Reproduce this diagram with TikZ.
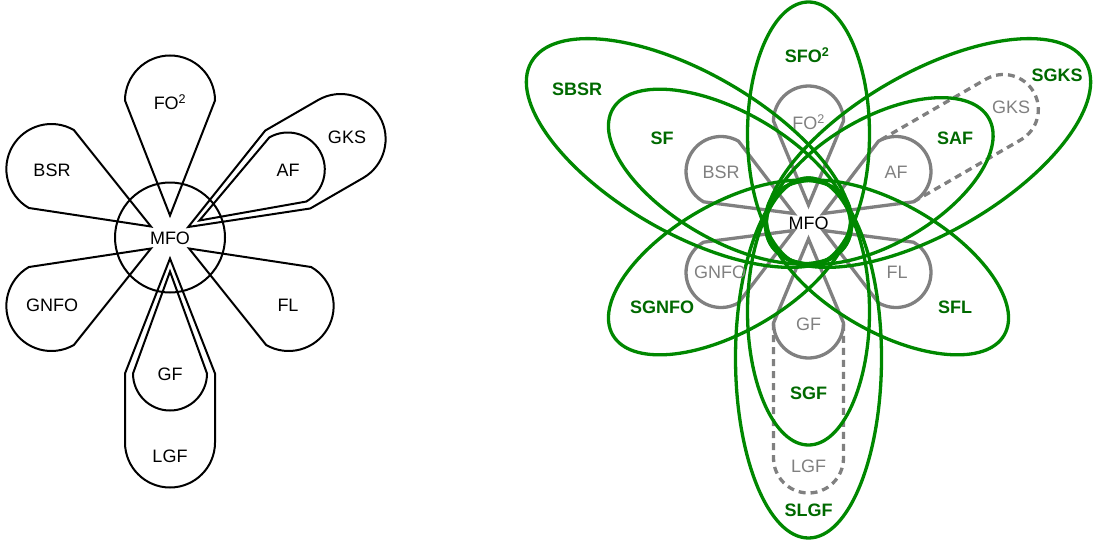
\documentclass[tikz,border=0pt]{standalone}
\usepackage{fontspec}
\setmainfont{Liberation Sans}
\definecolor{lgreen}{RGB}{0,136,0}
\definecolor{tgreen}{RGB}{0,105,0}
\definecolor{pgray}{RGB}{128,128,128}
\begin{document}
\begin{tikzpicture}[x=1pt,y=-1pt,
  font=\fontsize{18}{21}\selectfont,
  blk/.style={draw=black, line width=2pt, line join=miter},
  gp/.style={draw=pgray, line width=3.3pt, line join=miter},
  gd/.style={draw=pgray, line width=3.3pt, dash pattern=on 7pt off 5pt},
  ge/.style={draw=lgreen, line width=3.3pt},
  blab/.style={text=black, inner sep=0pt},
  glab/.style={text=pgray, inner sep=0pt},
  slab/.style={text=tgreen, inner sep=0pt, font=\fontsize{18}{21}\selectfont\bfseries},
]
\useasboundingbox (0,0) rectangle (1097,546);

% ---------------- left diagram ----------------
\coordinate (LC) at (170,237.5);
\draw[blk] (LC) circle[radius=55];
\foreach \ang in {90,150,210,330} {
  \draw[blk, shift={(LC)}, rotate=\ang]
    (22,0) -- (137,45) arc[start angle=90,end angle=-90,radius=45] -- cycle;
}
\foreach \ang/\L in {270/205, 30/197} {
  \draw[blk, shift={(LC)}, rotate=\ang]
    (34,0) -- (136,37) arc[start angle=90,end angle=-90,radius=37] -- cycle;
  \draw[blk, shift={(LC)}, rotate=\ang]
    (21,0) -- (136,45) -- (\L,45) arc[start angle=90,end angle=-90,radius=45] -- (136,-45) -- cycle;
}
\node[blab] (lmfo) at (170,238) {MFO};
\node[blab] (lfo) at (170,102) {FO\textsuperscript{2}};
\node[blab] (lbsr) at (52,170) {BSR};
\node[blab] (laf) at (288,170) {AF};
\node[blab] (lgks) at (347,137) {GKS};
\node[blab] (lgnfo) at (52,305) {GNFO};
\node[blab] (lfl) at (288,305) {FL};
\node[blab] (lgf) at (170,374) {GF};
\node[blab] (llgf) at (170,456) {LGF};

% ---------------- right diagram ----------------
\coordinate (RC) at (808.5,222);
\foreach \ang in {90,150,30,210,330,270} {
  \draw[gp, shift={(RC)}, rotate=\ang]
    (17,0) -- (101,35) arc[start angle=90,end angle=-90,radius=35] -- cycle;
}
\draw[gd, shift={(RC)}, rotate=270]
  (101,35) -- (236,35) arc[start angle=90,end angle=-90,radius=35] -- (101,-35);
\draw[gd, shift={(RC)}, rotate=30]
  (101,35) -- (225,35) arc[start angle=90,end angle=-90,radius=35] -- (101,-35);

\foreach \ang/\a/\b in {90/132/61, 270/133.5/61, 150/135/64, 30/126/63,
                        210/135/64, 330/135/64, 150/182/80, 30/182/80, 270/180/73} {
  \draw[ge, shift={(RC)}, rotate=\ang] (\a-44,0) ellipse[x radius=\a, y radius=\b];
}
\draw[ge] (RC) circle[radius=42];

\node[glab] (rfo) at (808.5,122) {FO\textsuperscript{2}};
\node[glab] (rbsr) at (721,172) {BSR};
\node[glab] (raf) at (896,172) {AF};
\node[glab] (rgnfo) at (720,272) {GNFO};
\node[glab] (rfl) at (897,272) {FL};
\node[glab] (rgf) at (808.5,324) {GF};
\node[glab] (rlgf) at (808.5,466) {LGF};
\node[glab] (rgks) at (1011,107) {GKS};
\node[blab] (rmfo) at (808.5,223) {MFO};

\node[slab] (sfo) at (807,55) {SFO\textsuperscript{2}};
\node[slab] (sbsr) at (577,89) {SBSR};
\node[slab] (sf) at (662,138) {SF};
\node[slab] (saf) at (955,138) {SAF};
\node[slab] (sgks) at (1057,75) {SGKS};
\node[slab] (sgnfo) at (662,307) {SGNFO};
\node[slab] (sfl) at (955,307) {SFL};
\node[slab] (sgf) at (808.5,393) {SGF};
\node[slab] (slgf) at (808.5,510) {SLGF};
\end{tikzpicture}
\end{document}
